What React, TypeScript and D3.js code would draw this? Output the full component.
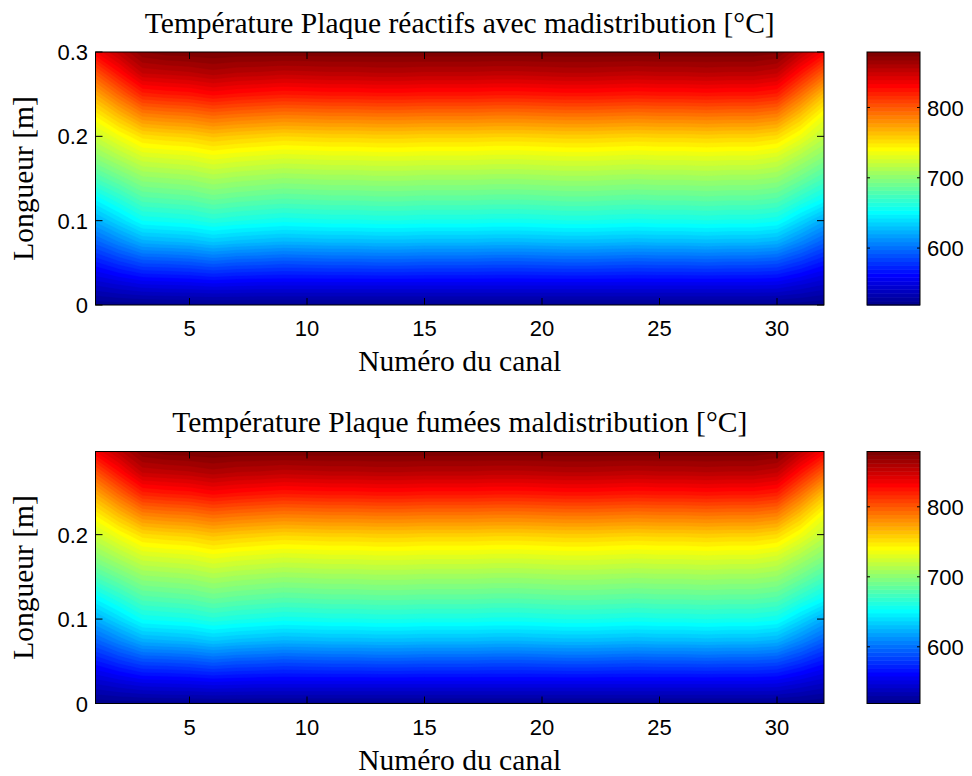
import React from 'react';
import * as d3 from 'd3';

// ---------- data ----------
const channels = [1, 2, 3, 4, 5, 6, 7, 8, 9, 10, 11, 12, 13, 14, 15, 16, 17, 18, 19, 20, 21, 22, 23, 24, 25, 26, 27, 28, 29, 30, 31, 32];
const lengthsReactifs = [0, 0.025, 0.05, 0.075, 0.1, 0.125, 0.15, 0.175, 0.2, 0.225, 0.25, 0.275, 0.3];
const lengthsFumees = [0, 0.0249, 0.0498, 0.0746, 0.0995, 0.1244, 0.1493, 0.1741, 0.199, 0.2239, 0.2488, 0.2736, 0.2985];

// temperature [°C], one row per length, one column per channel
const tempReactifs = [
  [520, 521, 521, 522, 522, 522, 522, 522, 522, 522, 522, 522, 522, 522, 522, 522, 522, 522, 522, 522, 522, 522, 522, 522, 522, 522, 522, 522, 522, 522, 521, 519],
  [543, 548, 553, 554, 555, 557, 556, 555, 555, 555, 555, 555, 555, 555, 555, 555, 555, 555, 555, 555, 555, 555, 555, 555, 555, 555, 555, 555, 555, 554, 548, 542],
  [568, 578, 587, 588, 590, 594, 591, 590, 588, 589, 590, 590, 591, 591, 590, 590, 590, 589, 589, 590, 591, 591, 590, 589, 590, 590, 591, 590, 590, 588, 578, 567],
  [595, 609, 623, 625, 627, 632, 629, 627, 625, 626, 627, 627, 628, 628, 627, 627, 627, 626, 626, 627, 628, 628, 627, 626, 627, 627, 628, 627, 627, 624, 609, 594],
  [622, 638, 654, 656, 658, 663, 660, 658, 656, 657, 658, 658, 659, 659, 658, 658, 658, 657, 657, 658, 659, 659, 658, 657, 658, 658, 659, 658, 658, 655, 638, 621],
  [649, 664, 679, 681, 683, 688, 685, 683, 681, 682, 683, 683, 684, 684, 683, 683, 683, 682, 682, 683, 684, 684, 683, 682, 683, 683, 684, 683, 683, 680, 666, 652],
  [676, 689, 702, 704, 706, 711, 708, 706, 704, 705, 706, 706, 707, 707, 706, 706, 706, 705, 705, 706, 707, 707, 706, 705, 706, 706, 707, 706, 706, 703, 690, 676],
  [700, 713, 726, 728, 730, 735, 732, 730, 728, 729, 730, 730, 731, 731, 730, 730, 730, 729, 729, 730, 731, 731, 730, 729, 730, 730, 731, 730, 730, 726, 712, 698],
  [722, 737, 752, 755, 757, 762, 759, 757, 755, 756, 757, 757, 758, 758, 757, 757, 757, 756, 756, 757, 758, 758, 757, 756, 757, 757, 758, 757, 757, 753, 736, 718],
  [745, 765, 785, 788, 790, 795, 792, 790, 788, 789, 790, 790, 791, 791, 790, 790, 790, 789, 789, 790, 791, 791, 790, 789, 790, 790, 791, 790, 790, 786, 762, 737],
  [772, 796, 820, 823, 825, 830, 827, 825, 823, 824, 825, 825, 826, 826, 825, 825, 825, 824, 824, 825, 826, 826, 825, 824, 825, 825, 826, 825, 825, 821, 793, 764],
  [802, 827, 851, 853, 855, 859, 856, 855, 853, 854, 855, 855, 856, 856, 855, 855, 855, 854, 854, 855, 856, 856, 855, 854, 855, 855, 856, 855, 855, 851, 825, 798],
  [834, 854, 873, 877, 878, 879, 878, 878, 878, 878, 878, 878, 878, 878, 878, 878, 878, 878, 878, 878, 878, 878, 878, 878, 878, 878, 878, 878, 878, 875, 854, 832],
];
const tempFumees = tempReactifs;

const xTicks = [5, 10, 15, 20, 25, 30];
const yTicksReactifs = [0, 0.1, 0.2, 0.3];
const yTicksFumees = [0, 0.1, 0.2];
const cbarTicks = [600, 700, 800];

const titleReactifs = 'Température Plaque réactifs avec madistribution [°C]';
const titleFumees = 'Température Plaque fumées maldistribution [°C]';
const xLabel = 'Numéro du canal';
const yLabel = 'Longueur [m]';

// ---------- helpers ----------
const N_COLORS = 64;
function jetColors(m: number): string[] {
  const n = Math.ceil(m / 4);
  const u: number[] = [];
  for (let i = 1; i <= n; i++) u.push(i / n);
  for (let i = 0; i < n - 1; i++) u.push(1);
  for (let i = n; i >= 1; i--) u.push(i / n);
  const g0 = Math.ceil(n / 2) - (m % 4 === 1 ? 1 : 0);
  const R = new Array(m).fill(0), G = new Array(m).fill(0), B = new Array(m).fill(0);
  const gIdx: number[] = [], rIdx: number[] = [], bIdx: number[] = [];
  for (let k = 1; k <= u.length; k++) {
    const g = g0 + k;
    if (g <= m) gIdx.push(g);
    if (g + n <= m) rIdx.push(g + n);
    if (g - n >= 1) bIdx.push(g - n);
  }
  rIdx.forEach((idx, k) => (R[idx - 1] = u[k]));
  gIdx.forEach((idx, k) => (G[idx - 1] = u[k]));
  bIdx.forEach((idx, k) => (B[idx - 1] = u[u.length - bIdx.length + k]));
  return R.map((_, i) => d3.rgb(R[i] * 255, G[i] * 255, B[i] * 255).formatHex());
}
const JET = jetColors(N_COLORS);

const SERIF = '"Liberation Serif", "Times New Roman", serif';
const SANS = '"Liberation Sans", Arial, sans-serif';

const X0 = 95.5, X1 = 824;
const CB0 = 867, CB1 = 920;

type PanelProps = {
  id: string;
  top: number;
  bottom: number;
  title: string;
  lengths: number[];
  temps: number[][];
  yTicks: number[];
};

function Panel({ id, top, bottom, title, lengths, temps, yTicks }: PanelProps) {
  const nx = channels.length;
  const ny = lengths.length;
  const values = temps.flat();
  const [tmin, tmax] = d3.extent(values) as [number, number];

  const x = d3.scaleLinear().domain([channels[0], channels[nx - 1]]).range([X0, X1]);
  const y = d3.scaleLinear().domain([0, lengths[ny - 1]]).range([bottom, top]);
  const chIdx = d3.scaleLinear().domain(d3.range(nx)).range(channels);
  const lenIdx = d3.scaleLinear().domain(d3.range(ny)).range(lengths);

  const thresholds = d3.range(N_COLORS).map((i) => tmin + ((tmax - tmin) * i) / N_COLORS);
  const contours = d3.contours().size([nx, ny]).thresholds(thresholds)(values);
  const proj = d3.geoTransform({
    point: function (px: number, py: number) {
      (this as any).stream.point(x(chIdx(px - 0.5)), y(lenIdx(py - 0.5)));
    },
  });
  const path = d3.geoPath(proj);

  const c = d3.scaleLinear().domain([tmin, tmax]).range([bottom, top]);
  const bands = d3.range(N_COLORS);

  const tickLen = 7;
  const cx = (X0 + X1) / 2;
  const cy = (top + bottom) / 2;

  return (
    <g>
      <defs>
        <clipPath id={`clip-${id}`}>
          <rect x={X0} y={top} width={X1 - X0} height={bottom - top} />
        </clipPath>
      </defs>
      <g clipPath={`url(#clip-${id})`}>
        {contours.map((ct, i) => (
          <path key={i} d={path(ct as any) || ''} fill={JET[i]} stroke={JET[i]} strokeWidth={0.4} />
        ))}
      </g>
      {/* axes box */}
      <rect x={X0} y={top} width={X1 - X0} height={bottom - top} fill="none" stroke="#000" strokeWidth={1} />
      {xTicks.map((t) => (
        <g key={`xt${t}`}>
          <line x1={x(t)} x2={x(t)} y1={bottom} y2={bottom - tickLen} stroke="#000" />
          <line x1={x(t)} x2={x(t)} y1={top} y2={top + tickLen} stroke="#000" />
          <text x={x(t)} y={bottom + 31} textAnchor="middle" fontFamily={SANS} fontSize={22}>
            {t}
          </text>
        </g>
      ))}
      {yTicks.map((t) => (
        <g key={`yt${t}`}>
          <line x1={X0} x2={X0 + tickLen} y1={y(t)} y2={y(t)} stroke="#000" />
          <line x1={X1} x2={X1 - tickLen} y1={y(t)} y2={y(t)} stroke="#000" />
          <text x={88} y={y(t) + 8} textAnchor="end" fontFamily={SANS} fontSize={22}>
            {String(t)}
          </text>
        </g>
      ))}
      <text x={cx} y={top - 19.5} textAnchor="middle" fontFamily={SERIF} fontSize={29.5}>
        {title}
      </text>
      <text x={cx} y={bottom + 66} textAnchor="middle" fontFamily={SERIF} fontSize={29.5}>
        {xLabel}
      </text>
      <text transform={`translate(33,${cy}) rotate(-90)`} textAnchor="middle" fontFamily={SERIF} fontSize={29.5}>
        {yLabel}
      </text>
      {/* colorbar */}
      {bands.map((i) => {
        const v0 = tmin + ((tmax - tmin) * i) / N_COLORS;
        const v1 = tmin + ((tmax - tmin) * (i + 1)) / N_COLORS;
        return <rect key={`cb${i}`} x={CB0} y={c(v1)} width={CB1 - CB0} height={c(v0) - c(v1) + 0.5} fill={JET[i]} />;
      })}
      <rect x={CB0} y={top} width={CB1 - CB0} height={bottom - top} fill="none" stroke="#000" strokeWidth={1} />
      {cbarTicks.map((t) => (
        <g key={`ct${t}`}>
          <line x1={CB0} x2={CB0 + 3} y1={c(t)} y2={c(t)} stroke="#000" />
          <line x1={CB1} x2={CB1 - 3} y1={c(t)} y2={c(t)} stroke="#000" />
          <text x={927} y={c(t) + 8} textAnchor="start" fontFamily={SANS} fontSize={22}>
            {t}
          </text>
        </g>
      ))}
    </g>
  );
}

export default function App() {
  return (
    <svg
      width={972}
      height={776}
      style={{ position: 'absolute', left: 0, top: 0, background: '#fff' }}
    >
      <rect width={972} height={776} fill="#fff" />
      <Panel
        id="reactifs"
        top={52}
        bottom={305}
        title={titleReactifs}
        lengths={lengthsReactifs}
        temps={tempReactifs}
        yTicks={yTicksReactifs}
      />
      <Panel
        id="fumees"
        top={451.5}
        bottom={703.5}
        title={titleFumees}
        lengths={lengthsFumees}
        temps={tempFumees}
        yTicks={yTicksFumees}
      />
    </svg>
  );
}
